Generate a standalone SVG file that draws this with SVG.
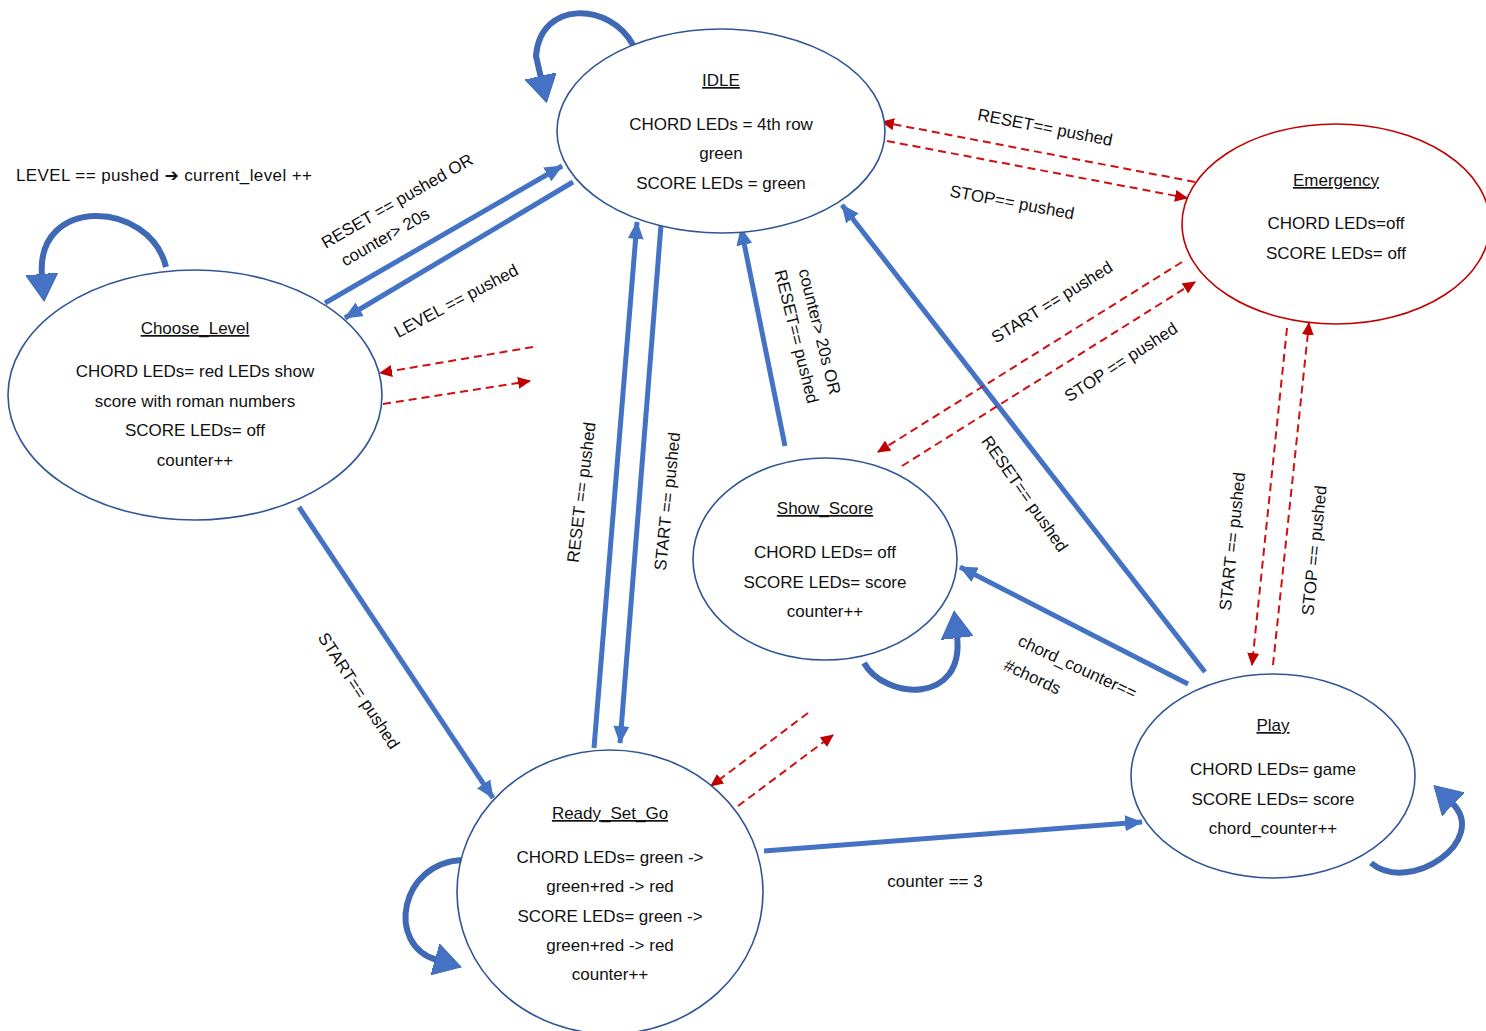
<svg xmlns="http://www.w3.org/2000/svg" width="1486" height="1031" viewBox="0 0 1486 1031">
<defs>
<style>
.node{fill:#fff;stroke:#2F5597;stroke-width:1.6}
.emerg{fill:#fff;stroke:#C00000;stroke-width:1.6}
text{font-family:"Liberation Sans",Arial,sans-serif;font-size:17px;fill:#111}
.t{text-anchor:middle}
.title{text-anchor:middle;text-decoration:underline}
.blue{stroke:#4472C4;stroke-width:5;fill:none}
.loop{stroke:#3F68B5;stroke-width:6;fill:none}
.red{stroke:#D01010;stroke-width:2;fill:none;stroke-dasharray:8 5}
</style>
<marker id="ab" markerUnits="userSpaceOnUse" markerWidth="18" markerHeight="16" refX="17" refY="8" orient="auto">
<path d="M0,0 L18,8 L0,16 z" fill="#4472C4"/>
</marker>
<marker id="ar" markerUnits="userSpaceOnUse" markerWidth="13" markerHeight="12" refX="12" refY="6" orient="auto">
<path d="M0,0 L13,6 L0,12 z" fill="#C00000"/>
</marker>
<marker id="al" markerUnits="userSpaceOnUse" markerWidth="28" markerHeight="32" refX="2" refY="16" orient="auto">
<path d="M0,0 L27,16 L0,32 z" fill="#4472C4" stroke="#3F68B5" stroke-width="1"/>
</marker>
</defs>
<rect width="1486" height="1031" fill="#fff"/>

<g id="connectors">
<line class="blue" x1="325" y1="303" x2="562" y2="166" marker-end="url(#ab)"/>
<line class="blue" x1="573" y1="182" x2="345" y2="318" marker-end="url(#ab)"/>
<line class="blue" x1="299" y1="507" x2="493" y2="798" marker-end="url(#ab)"/>
<line class="blue" x1="594" y1="748" x2="637" y2="222" marker-end="url(#ab)"/>
<line class="blue" x1="661" y1="225" x2="620" y2="743" marker-end="url(#ab)"/>
<line class="blue" x1="785" y1="446" x2="741" y2="228" marker-end="url(#ab)"/>
<line class="blue" x1="1205" y1="672" x2="842" y2="205" marker-end="url(#ab)"/>
<line class="blue" x1="1188" y1="684" x2="960" y2="567" marker-end="url(#ab)"/>
<line class="blue" x1="764" y1="851" x2="1142" y2="822" marker-end="url(#ab)"/>

<line class="red" x1="1195" y1="182" x2="882" y2="122" marker-end="url(#ar)"/>
<line class="red" x1="887" y1="141" x2="1187" y2="198" marker-end="url(#ar)"/>
<line class="red" x1="1182" y1="262" x2="878" y2="452" marker-end="url(#ar)"/>
<line class="red" x1="902" y1="466" x2="1195" y2="282" marker-end="url(#ar)"/>
<line class="red" x1="1287" y1="328" x2="1252" y2="665" marker-end="url(#ar)"/>
<line class="red" x1="1273" y1="665" x2="1309" y2="323" marker-end="url(#ar)"/>
<line class="red" x1="533" y1="347" x2="380" y2="373" marker-end="url(#ar)"/>
<line class="red" x1="383" y1="404" x2="530" y2="381" marker-end="url(#ar)"/>
<line class="red" x1="808" y1="713" x2="711" y2="786" marker-end="url(#ar)"/>
<line class="red" x1="738" y1="806" x2="833" y2="735" marker-end="url(#ar)"/>

<path class="loop" d="M633,45 C610,2 540,0 536,56 L541,78" marker-end="url(#al)"/>
<path class="loop" d="M166,267 C150,200 35,195 42,276" marker-end="url(#al)"/>
<path class="loop" d="M864,663 C885,700 965,705 957,636" marker-end="url(#al)"/>
<path class="loop" d="M1371,863 C1410,895 1490,840 1452,803" marker-end="url(#al)"/>
<path class="loop" d="M463,860 C400,862 385,945 437,960" marker-end="url(#al)"/>
</g>

<g id="edge-labels">
<text x="16" y="181" textLength="296">LEVEL == pushed <tspan font-family="DejaVu Sans" font-weight="bold">➔</tspan> current_level ++</text>
<text class="t" transform="translate(400,206) rotate(-30)">RESET == pushed OR</text>
<text class="t" transform="translate(388,242) rotate(-30)">counter&gt; 20s</text>
<text class="t" transform="translate(459,306) rotate(-28)">LEVEL == pushed</text>
<text class="t" transform="translate(1044,133) rotate(11)">RESET== pushed</text>
<text class="t" transform="translate(1011,208) rotate(10.5)">STOP== pushed</text>
<text class="t" transform="translate(1055,307) rotate(-32)">START == pushed</text>
<text class="t" transform="translate(1124,367) rotate(-33)">STOP == pushed</text>
<text class="t" transform="translate(814,333) rotate(76)">counter&gt; 20s OR</text>
<text class="t" transform="translate(791,338) rotate(76)">RESET== pushed</text>
<text class="t" transform="translate(587,493) rotate(-83)">RESET == pushed</text>
<text class="t" transform="translate(673,502) rotate(-84)">START == pushed</text>
<text class="t" transform="translate(1020,497) rotate(55)">RESET== pushed</text>
<text class="t" transform="translate(1075,672) rotate(25)">chord_counter==</text>
<text class="t" transform="translate(1030,682) rotate(25)">#chords</text>
<text class="t" transform="translate(354,694) rotate(57)">START== pushed</text>
<text class="t" transform="translate(1238,542) rotate(-84)">START == pushed</text>
<text class="t" transform="translate(1320,551) rotate(-84)">STOP == pushed</text>
<text class="t" x="935" y="887">counter == 3</text>
</g>

<g id="IDLE">
<ellipse class="node" cx="721" cy="131" rx="164" ry="102"/>
<text class="title" x="721" y="86">IDLE</text>
<text class="t" x="721" y="130">CHORD LEDs = 4th row</text>
<text class="t" x="721" y="159">green</text>
<text class="t" x="721" y="189">SCORE LEDs = green</text>
</g>

<g id="Choose_Level">
<ellipse class="node" cx="195" cy="395" rx="187" ry="125"/>
<text class="title" x="195" y="334">Choose_Level</text>
<text class="t" x="195" y="377">CHORD LEDs= red LEDs show</text>
<text class="t" x="195" y="407">score with roman numbers</text>
<text class="t" x="195" y="436">SCORE LEDs= off</text>
<text class="t" x="195" y="466">counter++</text>
</g>

<g id="Emergency">
<ellipse class="emerg" cx="1336" cy="224" rx="154" ry="100"/>
<text class="title" x="1336" y="186">Emergency</text>
<text class="t" x="1336" y="229">CHORD LEDs=off</text>
<text class="t" x="1336" y="259">SCORE LEDs= off</text>
</g>

<g id="Show_Score">
<ellipse class="node" cx="825" cy="559" rx="132" ry="101"/>
<text class="title" x="825" y="514">Show_Score</text>
<text class="t" x="825" y="558">CHORD LEDs= off</text>
<text class="t" x="825" y="588">SCORE LEDs= score</text>
<text class="t" x="825" y="617">counter++</text>
</g>

<g id="Play">
<ellipse class="node" cx="1273" cy="776" rx="142" ry="102"/>
<text class="title" x="1273" y="731">Play</text>
<text class="t" x="1273" y="775">CHORD LEDs= game</text>
<text class="t" x="1273" y="805">SCORE LEDs= score</text>
<text class="t" x="1273" y="834">chord_counter++</text>
</g>

<g id="Ready_Set_Go">
<ellipse class="node" cx="610" cy="892" rx="153" ry="142"/>
<text class="title" x="610" y="819">Ready_Set_Go</text>
<text class="t" x="610" y="863">CHORD LEDs= green -&gt;</text>
<text class="t" x="610" y="892">green+red -&gt; red</text>
<text class="t" x="610" y="922">SCORE LEDs= green -&gt;</text>
<text class="t" x="610" y="951">green+red -&gt; red</text>
<text class="t" x="610" y="980">counter++</text>
</g>
</svg>
